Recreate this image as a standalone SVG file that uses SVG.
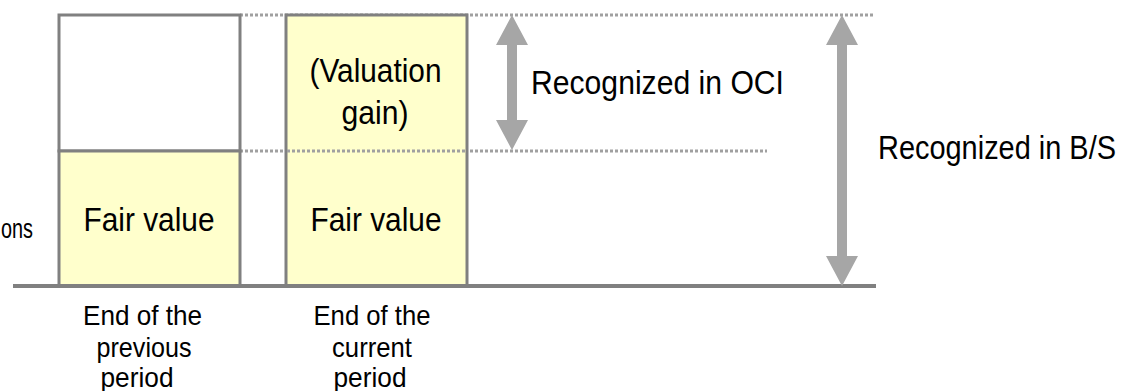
<svg xmlns="http://www.w3.org/2000/svg" width="1127" height="391" viewBox="0 0 1127 391">
  <style>
    .lbl { font-family: "Liberation Sans", Arial, sans-serif; fill: #000; }
    .big { font-size: 33px; }
    .small { font-size: 28px; }
    .box { stroke: #808080; stroke-width: 3; }
    .dot { stroke: #A0A0A0; stroke-width: 3; stroke-dasharray: 3 2; fill: none; }
    .arrow { fill: #A6A6A6; }
  </style>
  <rect width="1127" height="391" fill="#fff"/>

  <!-- reference lines at the two value levels -->
  <g id="guides">
    <line class="dot" x1="240" y1="15" x2="874" y2="15"/>
    <line class="dot" x1="240" y1="151" x2="767" y2="151"/>
  </g>

  <!-- previous period column -->
  <g id="prev-column">
    <rect x="59" y="15" width="181" height="136" fill="#fff" class="box"/>
    <rect x="59" y="151" width="181" height="135" fill="#FFFFCC" class="box"/>
    <text class="lbl big" x="149" y="231" text-anchor="middle" textLength="131" lengthAdjust="spacingAndGlyphs">Fair value</text>
  </g>

  <!-- current period column -->
  <g id="curr-column">
    <rect x="286" y="15" width="181" height="271" fill="#FFFFCC" class="box"/>
    <line class="dot" x1="287" y1="151" x2="466" y2="151"/>
    <text class="lbl big" x="375.5" y="82" text-anchor="middle" textLength="132" lengthAdjust="spacingAndGlyphs">(Valuation</text>
    <text class="lbl big" x="375" y="124" text-anchor="middle" textLength="67" lengthAdjust="spacingAndGlyphs">gain)</text>
    <text class="lbl big" x="376" y="231" text-anchor="middle" textLength="131" lengthAdjust="spacingAndGlyphs">Fair value</text>
  </g>

  <!-- axis -->
  <g id="axis">
    <line x1="13" y1="286" x2="876" y2="286" stroke="#808080" stroke-width="4"/>
    <text class="lbl" font-size="27" x="33" y="238" text-anchor="end" textLength="32" lengthAdjust="spacingAndGlyphs">ons</text>
  </g>

  <!-- period labels -->
  <g id="label-prev">
    <text class="lbl small" x="142.5" y="325" text-anchor="middle" textLength="119" lengthAdjust="spacingAndGlyphs">End of the</text>
    <text class="lbl small" x="144" y="357" text-anchor="middle" textLength="95" lengthAdjust="spacingAndGlyphs">previous</text>
    <text class="lbl small" x="137" y="387" text-anchor="middle" textLength="73" lengthAdjust="spacingAndGlyphs">period</text>
  </g>
  <g id="label-curr">
    <text class="lbl small" x="372" y="325" text-anchor="middle" textLength="117" lengthAdjust="spacingAndGlyphs">End of the</text>
    <text class="lbl small" x="372" y="357" text-anchor="middle" textLength="80" lengthAdjust="spacingAndGlyphs">current</text>
    <text class="lbl small" x="370" y="387" text-anchor="middle" textLength="73" lengthAdjust="spacingAndGlyphs">period</text>
  </g>

  <!-- double-headed range arrows -->
  <g id="connectors">
    <polygon class="arrow" points="512,15 528,45 517,45 517,120 528,120 512,150 496,120 507,120 507,45 496,45"/>
    <polygon class="arrow" points="842,15 858,45 847,45 847,256 858,256 842,286 826,256 837,256 837,45 826,45"/>
  </g>

  <g id="oci-label">
    <text class="lbl big" x="531" y="94" textLength="253" lengthAdjust="spacingAndGlyphs">Recognized in OCI</text>
  </g>
  <g id="bs-label">
    <text class="lbl big" x="878" y="159" textLength="238" lengthAdjust="spacingAndGlyphs">Recognized in B/S</text>
  </g>
</svg>
